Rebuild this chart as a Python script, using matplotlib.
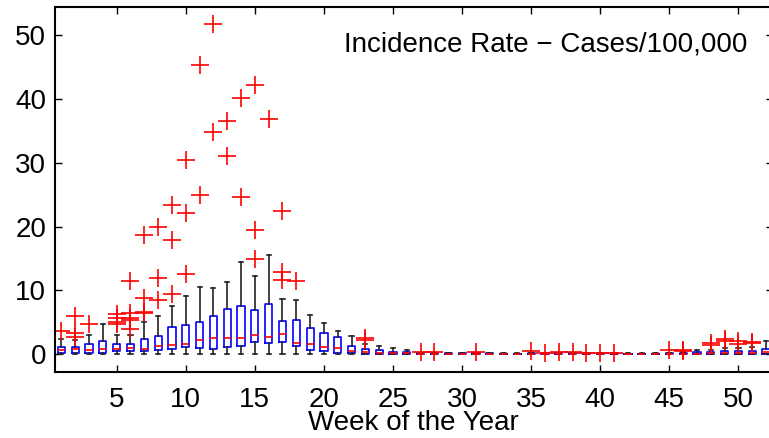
import matplotlib
matplotlib.use('Agg')
import matplotlib.pyplot as plt
import numpy as np

###############################################################################

# Weekly incidence box statistics (cases / 100,000)
weeks = list(range(1, 53))

q1 = [0.10, 0.20, 0.10, 0.15, 0.47, 0.47, 0.42, 0.63, 0.73, 1.05,
      0.89, 0.84, 1.15, 1.26, 1.88, 1.67, 1.83, 1.20, 0.63, 0.42,
      0.20, 0.20, 0.00, 0.00, 0.00, 0.00, 0.00, 0.00, 0.00, 0.00,
      0.00, 0.00, 0.00, 0.00, 0.00, 0.00, 0.00, 0.00, 0.00, 0.00,
      0.00, 0.00, 0.00, 0.00, 0.00, 0.00, 0.00, 0.00, 0.00, 0.00,
      0.00, 0.00]
median = [0.63, 0.73, 0.68, 0.73, 0.83, 0.90, 0.83, 1.31, 1.41, 1.57,
          2.20, 2.57, 2.57, 2.60, 2.93, 2.67, 3.14, 1.78, 1.57, 1.15,
          1.00, 0.52, 0.26, 0.20, 0.15, 0.10, 0.08, 0.05, 0.03, 0.03,
          0.03, 0.03, 0.02, 0.02, 0.03, 0.03, 0.03, 0.03, 0.03, 0.03,
          0.03, 0.02, 0.02, 0.02, 0.03, 0.05, 0.08, 0.10, 0.15, 0.15,
          0.15, 0.37]
q3 = [1.05, 1.15, 1.57, 2.10, 1.52, 1.62, 2.30, 2.83, 4.19, 4.50,
      5.07, 5.97, 7.00, 7.60, 6.85, 7.80, 5.18, 5.28, 4.10, 3.25,
      2.70, 1.30, 0.73, 0.63, 0.37, 0.26, 0.20, 0.15, 0.10, 0.10,
      0.10, 0.12, 0.08, 0.08, 0.10, 0.10, 0.12, 0.12, 0.10, 0.10,
      0.10, 0.08, 0.08, 0.08, 0.12, 0.15, 0.30, 0.30, 0.50, 0.50,
      0.55, 0.80]
whis_hi = [2.4, 2.2, 3.0, 4.8, 3.0, 3.0, 5.1, 6.0, 7.5, 9.1,
           10.5, 10.3, 11.3, 14.4, 12.3, 15.6, 8.6, 8.5, 6.2, 4.9,
           3.7, 2.9, 1.57, 1.3, 0.9, 0.63, 0.25, 0.2, 0.15, 0.15,
           0.15, 0.2, 0.1, 0.1, 0.15, 0.15, 0.2, 0.2, 0.15, 0.15,
           0.15, 0.1, 0.1, 0.1, 0.2, 0.3, 0.7, 0.6, 1.0, 1.0,
           1.1, 2.1]
whis_lo = [0.0] * 52
outliers = [[3.7], [5.9, 3.3, 2.7], [4.8], [], [4.7, 5.0, 5.6, 6.3],
            [4.0, 5.3, 5.6, 6.4, 11.5], [6.4, 6.6, 8.8, 18.7], [8.5, 12.0, 20.0],
            [9.5, 17.9, 23.3], [12.5, 22.1, 30.5], [25.0, 45.3], [34.8, 51.8],
            [31.0, 36.6], [24.7, 40.2], [14.9, 19.5, 42.1], [36.9],
            [11.6, 12.9, 22.4], [11.5], [], [], [], [], [2.2, 2.6], [], [], [],
            [0.4], [0.3], [], [], [0.3], [], [], [], [0.5], [0.2], [0.3], [0.4],
            [0.2], [0.2], [0.2], [], [], [], [0.6], [0.5, 0.7], [], [1.4, 1.8],
            [2.1, 2.3], [1.6, 2.0], [1.8, 1.9], []]

title_text = 'Incidence Rate \u2212 Cases/100,000'

###############################################################################

plt.rcParams['font.family'] = ['Liberation Sans', 'DejaVu Sans']

stats = []
for i in range(len(weeks)):
    stats.append(dict(med=median[i], q1=q1[i], q3=q3[i],
                      whislo=whis_lo[i], whishi=whis_hi[i], fliers=outliers[i]))

fig = plt.figure(figsize=(7.69, 4.38), dpi=100)
ax = fig.add_axes([54.5 / 769, 66 / 438, (773 - 54.5) / 769, (431 - 66) / 438])

ax.bxp(stats, positions=weeks, widths=0.52, capwidths=0.3, showfliers=True,
       boxprops=dict(color='#0000ff', linewidth=1.2),
       medianprops=dict(color='#ff0000', linewidth=1.2),
       whiskerprops=dict(color='#222222', linewidth=1.2),
       capprops=dict(color='#222222', linewidth=1.2),
       flierprops=dict(marker='+', markeredgecolor='#ff0000', markersize=13,
                       markeredgewidth=1.2, linestyle='none'))

ax.set_xlim(0.5, 52.5)
ax.set_ylim(-2.8, 54.4)
ax.set_xticks([5, 10, 15, 20, 25, 30, 35, 40, 45, 50])
ax.set_xticklabels(['5', '10', '15', '20', '25', '30', '35', '40', '45', '50'])
ax.set_yticks([0, 10, 20, 30, 40, 50])
ax.tick_params(direction='in', length=5, width=1.0, top=True, right=True,
               labelsize=20, colors='black')
ax.tick_params(axis='x', pad=11)
ax.tick_params(axis='y', pad=6)
for s in ax.spines.values():
    s.set_linewidth(1.5)

ax.set_xlabel('Week of the Year', fontsize=20, labelpad=-2)
ax.text(0.9637, 0.896, title_text, transform=ax.transAxes, ha='right',
        va='center', fontsize=20)

fig.savefig('out.png', dpi=100)
